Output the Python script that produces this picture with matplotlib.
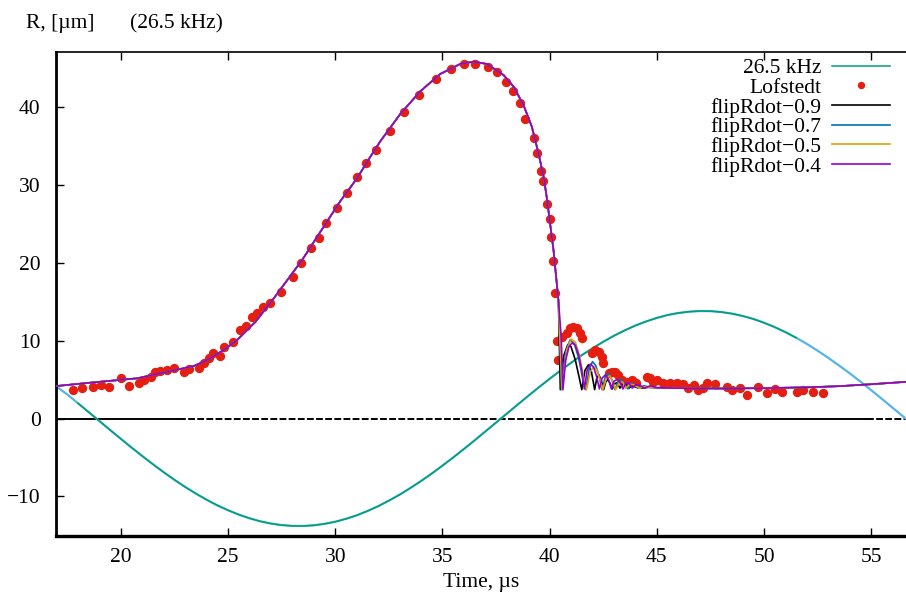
import matplotlib
matplotlib.use("Agg")
import matplotlib.pyplot as plt

# ---------------- data ----------------
# 26.5 kHz driving pressure (0.5 us spacing)
t_press = [17, 17.5, 18, 18.5, 19, 19.5, 20, 20.5, 21, 21.5, 22, 22.5, 23, 23.5,
           24, 24.5, 25, 25.5, 26, 26.5, 27, 27.5, 28, 28.5, 29, 29.5, 30, 30.5,
           31, 31.5, 32, 32.5, 33, 33.5, 34, 34.5, 35, 35.5, 36, 36.5, 37, 37.5,
           38, 38.5, 39, 39.5, 40, 40.5, 41, 41.5, 42, 42.5, 43, 43.5, 44, 44.5,
           45, 45.5, 46, 46.5, 47, 47.5, 48, 48.5, 49, 49.5, 50, 50.5, 51, 51.5,
           52, 52.5, 53, 53.5, 54, 54.5, 55, 55.5, 56, 56.3, 56.6]
p_press = [4.1, 3.10, 1.97, 0.83, -0.32, -1.47, -2.60, -3.72, -4.81, -5.87,
           -6.89, -7.86, -8.78, -9.63, -10.42, -11.14, -11.77, -12.33, -12.80,
           -13.19, -13.48, -13.68, -13.78, -13.79, -13.71, -13.52, -13.25, -12.88,
           -12.43, -11.88, -11.26, -10.55, -9.78, -8.93, -8.03, -7.07, -6.05,
           -5.01, -3.92, -2.81, -1.67, -0.53, 0.62, 1.76, 2.90, 4.01, 5.09, 6.15,
           7.15, 8.14, 9.00, 9.85, 10.62, 11.31, 11.93, 12.46, 12.91, 13.28, 13.54,
           13.71, 13.79, 13.78, 13.67, 13.46, 13.16, 12.78, 12.29, 11.73, 11.08,
           10.36, 9.57, 8.70, 7.78, 6.80, 5.79, 4.73, 3.63, 2.51, 1.37, 0.69, 0.0]

# Lofstedt experimental radius
t_lof = [17.79, 18.21, 18.72, 19.09, 19.45, 19.99, 20.38, 20.84, 21.08, 21.39,
         21.62, 21.85, 22.17, 22.47, 22.94, 23.17, 23.64, 23.87, 24.11, 24.31,
         24.65, 24.80, 25.24, 25.58, 25.82, 26.13, 26.36, 26.65, 26.96, 27.46,
         28.01, 28.41, 28.89, 29.23, 29.59, 30.09, 30.55, 31.02, 31.45, 31.92,
         32.54, 33.19, 33.92, 34.72, 35.40, 36.02, 36.53, 37.11, 37.54, 37.98,
         38.29, 38.60, 38.86, 39.25, 39.42, 39.58, 39.70, 39.90, 40.03, 40.06,
         40.15, 40.23,
         40.34, 40.41, 40.57, 40.81, 40.96, 41.11, 41.27, 41.43, 41.51,
         41.97, 42.12, 42.28, 42.44, 42.51,
         42.75, 42.90, 43.06, 43.21, 43.37,
         43.60, 43.84, 44.05, 44.53, 44.69, 44.84, 45.00, 45.31, 45.61, 45.93,
         46.24, 46.47, 46.71, 46.90, 47.17, 47.33, 47.72, 48.26, 48.49, 48.88,
         49.19, 49.73, 50.13, 50.51, 50.82, 51.52, 51.83, 52.30, 52.76]
r_lof = [3.66, 3.88, 4.08, 4.30, 4.08, 5.16, 4.17, 4.52, 4.94, 5.37,
         6.01, 6.14, 6.23, 6.44, 6.01, 6.35, 6.44, 7.09, 7.73, 8.37,
         8.02, 9.22, 9.86, 11.36, 11.87, 12.97, 13.50, 14.35, 14.79, 16.28,
         18.13, 19.92, 21.93, 23.21, 25.06, 26.98, 28.91, 30.96, 32.76, 34.47,
         36.94, 39.35, 41.53, 43.54, 44.83, 45.47, 45.47, 45.16, 44.48, 43.24,
         42.08, 40.54, 38.45, 35.97, 34.12, 31.71, 30.53, 27.54, 25.57, 23.26,
         20.26, 16.15,
         9.99, 7.51, 10.50, 10.94, 11.58, 11.78, 11.58, 10.94, 10.30,
         8.37, 8.79, 8.58, 7.93, 7.09,
         5.80, 6.01, 6.01, 5.58, 4.94,
         4.72, 4.94, 4.56, 5.37, 5.16, 4.72, 4.94, 4.52, 4.60, 4.60,
         4.43, 3.88, 4.30, 3.66, 3.88, 4.52, 4.43, 4.08, 3.66, 3.88,
         3.02, 4.08, 3.23, 3.75, 3.44, 3.44, 3.66, 3.44, 3.23]

# simulated radius: common growth phase (all four runs coincide)
t_grow = [17.0, 18.59, 20.77, 21.85, 23.41, 24.03, 24.80, 25.43, 26.05, 26.28,
          27.13, 28.46, 29.46, 30.24, 31.02, 31.64, 32.11, 33.04, 33.97, 34.90,
          35.83, 36.45, 37.08, 37.85, 38.32, 38.78, 39.17, 39.48, 39.72, 39.87,
          40.18, 40.41]
r_grow = [4.17, 4.60, 5.16, 5.80, 6.74, 7.51, 8.79, 10.08, 11.78, 12.4,
          15.4, 20.35, 24.6, 27.9, 30.83, 33.6, 35.6, 39.1, 42.0, 44.22,
          45.5, 45.8, 45.5, 44.09, 42.59, 40.24, 37.46, 34.04, 31.04, 28.3,
          21.63, 15.21]

# common late tail (after the rebounds die out)
t_tail = [45.0, 46.0, 48.0, 50.0, 52.0, 53.5, 55.0, 56.6]
r_tail = [3.95, 3.9, 3.85, 3.9, 4.0, 4.15, 4.4, 4.7]

# rebounds for each flipRdot coefficient
t_09 = [40.50, 40.65, 40.85, 41.00, 41.20, 41.40, 41.50, 41.65, 41.81, 41.95,
        42.10, 42.20, 42.30, 42.42, 42.52, 42.62, 42.72, 42.82, 42.92, 43.05,
        43.15, 43.28, 43.40, 43.55, 43.70, 43.85, 44.0, 44.3, 44.6]
r_09 = [3.7, 8.0, 9.5, 9.2, 7.5, 5.0, 3.7, 6.2, 6.9, 6.0,
        3.7, 5.2, 5.6, 4.8, 3.7, 4.7, 5.0, 4.5, 3.8, 4.5,
        4.6, 3.9, 4.4, 4.4, 3.9, 4.2, 4.1, 3.9, 4.0]

t_07 = [40.55, 40.75, 40.95, 41.15, 41.35, 41.55, 41.68, 41.85, 42.00, 42.15,
        42.30, 42.45, 42.60, 42.75, 42.90, 43.05, 43.20, 43.35, 43.50, 43.65,
        43.80, 43.95, 44.1, 44.4, 44.7]
r_07 = [3.7, 8.5, 10.1, 9.6, 7.8, 5.0, 3.7, 6.4, 7.3, 6.8,
        5.5, 3.7, 5.4, 5.8, 5.0, 3.7, 4.8, 5.0, 4.4, 3.8,
        4.5, 4.4, 3.9, 4.2, 4.0]

t_05 = [40.58, 40.80, 41.00, 41.20, 41.40, 41.60, 41.72, 41.90, 42.05, 42.20,
        42.35, 42.48, 42.65, 42.80, 42.95, 43.08, 43.25, 43.40, 43.55, 43.75,
        43.95, 44.2, 44.5, 44.8]
r_05 = [3.7, 8.8, 10.2, 9.8, 8.0, 5.0, 3.7, 6.0, 6.65, 6.2,
        5.0, 3.7, 5.2, 5.5, 4.7, 3.7, 4.6, 4.7, 3.9, 4.4,
        4.3, 3.9, 4.1, 3.95]

t_04 = [40.54, 40.62, 40.75, 40.90, 41.05, 41.20, 41.35, 41.50, 41.62, 41.75,
        41.90, 42.05, 42.20, 42.32, 42.45, 42.60, 42.75, 42.88, 43.00, 43.15,
        43.30, 43.42, 43.55, 43.70, 43.85, 44.0, 44.2, 44.4, 44.7]
r_04 = [10.5, 3.7, 7.5, 9.2, 9.7, 9.4, 8.2, 6.2, 3.8, 6.2,
        7.0, 6.6, 5.3, 3.8, 5.2, 5.6, 5.0, 3.8, 4.8, 5.0,
        4.6, 3.8, 4.5, 4.6, 3.9, 4.3, 4.3, 3.9, 4.2]

labels = ["26.5 kHz", "Lofstedt", "flipRdot\u22120.9", "flipRdot\u22120.7",
          "flipRdot\u22120.5", "flipRdot\u22120.4"]
x_ticks = [20, 25, 30, 35, 40, 45, 50, 55]
y_ticks = [-10, 0, 10, 20, 30, 40]

# ---------------- style ----------------
plt.rcParams['font.family'] = ['Liberation Serif', 'DejaVu Serif']
FS = 15.5
C_TEAL = '#009e73'
C_SKY = '#56b4e9'
C_RED = '#e51e10'
C_BLUE = '#0072b2'
C_ORANGE = '#e69f00'
C_PURPLE = '#9400d3'

fig = plt.figure(figsize=(9.06, 6.0), dpi=100)
ax = fig.add_axes([56 / 906, 1 - 535.7 / 600, 850 / 906, (535.7 - 52.3) / 600])

# zero axis (solid / dashed pieces as in the original rendering)
zero_pieces = [((16.98, 22.7), '-'), ((22.7, 43.7), (0, (3.5, 1.2))),
               ((43.7, 54.8), '-'), ((54.8, 56.62), (0, (3.5, 1.2)))]
for (xa, xb), ls in zero_pieces:
    ax.plot([xa, xb], [0, 0], color='black', lw=1.4, ls=ls, zorder=1)

# pressure curve (sky blue underneath, teal on top)
ax.plot(t_press, p_press, color=C_SKY, lw=1.6, zorder=2)
ax.plot(t_press[2:70], p_press[2:70], color=C_TEAL, lw=1.1, zorder=2.1,
        label=labels[0])

# experimental points
ax.plot(t_lof, r_lof, ls='none', marker='o', ms=5.7, color=C_RED, mec=C_RED,
        zorder=3, label=labels[1])

def full(t_post, r_post):
    return t_grow + t_post + t_tail, r_grow + r_post + r_tail

for tp, rp, col, lab in [(t_09, r_09, 'black', labels[2]),
                         (t_07, r_07, C_BLUE, labels[3]),
                         (t_05, r_05, C_ORANGE, labels[4]),
                         (t_04, r_04, C_PURPLE, labels[5])]:
    tt, rr = full(tp, rp)
    ax.plot(tt, rr, color=col, lw=1.2, zorder=4, label=lab)

ax.set_xlim(16.98, 56.62)
ax.set_ylim(-15.04, 47.0)
ax.set_xticks(x_ticks)
ax.set_yticks(y_ticks)
ax.set_yticklabels([("\u2212%d" % -v) if v < 0 else str(v) for v in y_ticks])
ax.tick_params(axis='both', direction='in', length=6, width=1.0,
               labelsize=FS, top=True, right=False)
ax.tick_params(axis='x', pad=9)
ax.tick_params(axis='y', pad=11)
ax.spines['right'].set_visible(False)
ax.spines['left'].set_linewidth(2.0)
ax.spines['bottom'].set_linewidth(2.4)
ax.spines['top'].set_linewidth(1.2)
ax.set_xlabel("Time, \u00b5s", fontsize=FS, labelpad=4)

fig.text(26 / 906, 1 - 28 / 600, "R, [\u00b5m]", fontsize=FS, va='baseline')
fig.text(130 / 906, 1 - 28 / 600, "(26.5 kHz)", fontsize=FS, va='baseline')

handles, labs = ax.get_legend_handles_labels()
hmap = dict(zip(labs, handles))
leg = ax.legend([hmap[l] for l in labels], labels, loc='upper right',
                bbox_to_anchor=((890 - 56) / 850, 1 - 6 / 483.4),
                frameon=False, fontsize=FS, markerfirst=False,
                handlelength=2.7, handletextpad=0.5, labelspacing=-0.02,
                borderaxespad=0, borderpad=0, markerscale=0.75, numpoints=1)

fig.savefig("out.png", dpi=100)
